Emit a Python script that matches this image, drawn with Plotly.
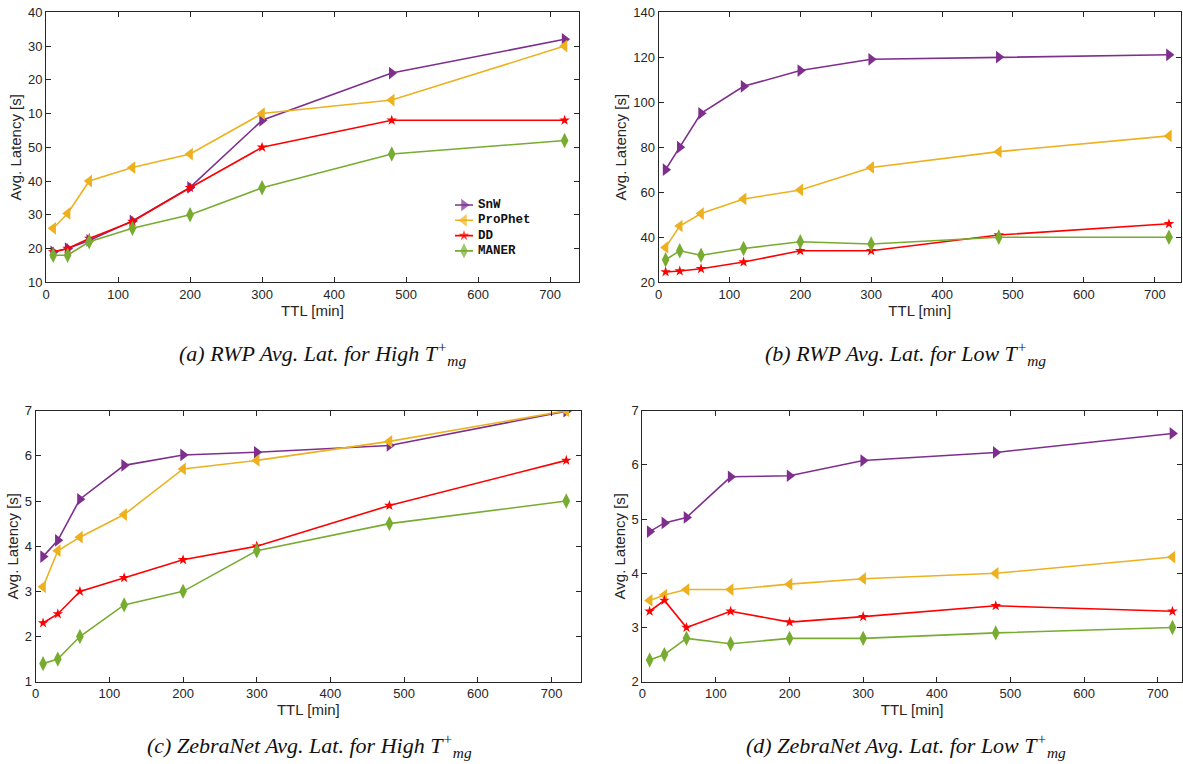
import plotly.graph_objects as go

W, H = 1183, 764

ttl = [10, 30, 60, 120, 200, 300, 480, 720]
series_names = ["SnW", "ProPhet", "DD", "MANER"]

# (a) RWP High  (values on axis scale whose tick labels read 10,20,30,40,50,10,20,30,40)
a_snw = [19, 20, 22.4, 28.2, 38.1, 58, 72, 82]
a_prophet = [26, 30.4, 40, 44, 48, 60, 64, 80]
a_dd = [19, 20, 23, 28, 38, 50, 58, 58]
a_maner = [18, 18, 22, 26, 30, 38, 48, 52]
a_tickvals = [10, 20, 30, 40, 50, 60, 70, 80, 90]
a_ticktext = ["10", "20", "30", "40", "50", "10", "20", "30", "40"]

# (b) RWP Low
b_snw = [70, 80, 95, 107, 114, 119, 120, 121]
b_prophet = [35.5, 45, 50.5, 57, 61, 71, 78, 85]
b_dd = [24.6, 25, 26, 29, 34, 34, 41, 46]
b_maner = [30, 34, 32, 35, 38, 37, 40, 40]

# (c) ZebraNet High
c_snw = [3.77, 4.13, 5.04, 5.79, 6.02, 6.08, 6.23, 6.99]
c_prophet = [3.1, 3.9, 4.2, 4.7, 5.71, 5.9, 6.32, 7.0]
c_dd = [2.3, 2.5, 3.0, 3.3, 3.7, 4.0, 4.9, 5.9]
c_maner = [1.4, 1.5, 2.0, 2.7, 3.0, 3.9, 4.5, 5.0]

# (d) ZebraNet Low
d_snw = [4.77, 4.93, 5.03, 5.78, 5.8, 6.08, 6.23, 6.58]
d_prophet = [3.5, 3.6, 3.7, 3.7, 3.8, 3.9, 4.0, 4.3]
d_dd = [3.3, 3.5, 3.0, 3.3, 3.1, 3.2, 3.4, 3.3]
d_maner = [2.4, 2.5, 2.8, 2.7, 2.8, 2.8, 2.9, 3.0]

captions = [
    "<i>(a) RWP Avg. Lat. for High T<sup>+</sup><sub>mg</sub></i>",
    "<i>(b) RWP Avg. Lat. for Low T<sup>+</sup><sub>mg</sub></i>",
    "<i>(c) ZebraNet Avg. Lat. for High T<sup>+</sup><sub>mg</sub></i>",
    "<i>(d) ZebraNet Avg. Lat. for Low T<sup>+</sup><sub>mg</sub></i>",
]

colors = ["#7E2F8E", "#EDB120", "#FF0000", "#77AC30"]
symbols = ["triangle-right", "triangle-left", "star", "diamond-tall"]
msizes = [11, 11, 8, 11]

# geometry in page pixels
panels = [
    dict(data=[a_snw, a_prophet, a_dd, a_maner], x=(46, 579), y=(12.3, 282.3),
         yr=[10, 90], xr=[0, 740], ytv=a_tickvals, ytt=a_ticktext, cap=(322, 353)),
    dict(data=[b_snw, b_prophet, b_dd, b_maner], x=(658.5, 1181), y=(12.0, 282.3),
         yr=[20, 140], xr=[0, 737], ytv=[20, 40, 60, 80, 100, 120, 140], ytt=None, cap=(905, 353)),
    dict(data=[c_snw, c_prophet, c_dd, c_maner], x=(35.7, 581), y=(410.7, 681.7),
         yr=[1, 7], xr=[0, 740], ytv=[1, 2, 3, 4, 5, 6, 7], ytt=None, cap=(310, 745)),
    dict(data=[d_snw, d_prophet, d_dd, d_maner], x=(642.3, 1182), y=(410.7, 681.7),
         yr=[2, 7], xr=[0, 733], ytv=[2, 3, 4, 5, 6, 7], ytt=None, cap=(906, 745)),
]


def px(xp):
    return xp / W


def py(yp):
    return 1 - yp / H


fig = go.Figure()
axis_color = "#262626"
tick_font = dict(family="Liberation Sans, Arial, sans-serif", size=13, color=axis_color)
title_font = dict(family="Liberation Sans, Arial, sans-serif", size=15, color=axis_color)

for i, p in enumerate(panels):
    sfx = "" if i == 0 else str(i + 1)
    for j, name in enumerate(series_names):
        fig.add_trace(go.Scatter(
            x=ttl, y=p["data"][j], mode="lines+markers",
            name=name,
            line=dict(color=colors[j], width=1.6),
            marker=dict(symbol=symbols[j], size=msizes[j], color=colors[j],
                        line=dict(width=0)),
            xaxis="x" + sfx, yaxis="y" + sfx,
            showlegend=False,
        ))
    x0, x1 = p["x"]
    ytop, ybot = p["y"]
    xa = dict(domain=[px(x0), min(px(x1), 1)], range=p["xr"], tickvals=[0, 100, 200, 300, 400, 500, 600, 700],
              showgrid=False, zeroline=False, showline=True, linecolor=axis_color, linewidth=1,
              mirror="ticks", ticks="inside", ticklen=5, tickcolor=axis_color, tickwidth=1,
              tickfont=tick_font, anchor="y" + sfx, automargin=False, ticklabeloverflow="allow",
              title=dict(text="TTL [min]", font=title_font, standoff=1))
    ya = dict(domain=[py(ybot), py(ytop)], range=p["yr"], tickvals=p["ytv"],
              showgrid=False, zeroline=False, showline=True, linecolor=axis_color, linewidth=1,
              mirror="ticks", ticks="inside", ticklen=5, tickcolor=axis_color, tickwidth=1,
              tickfont=tick_font, anchor="x" + sfx, automargin=False, ticklabeloverflow="allow",
              title=dict(text="Avg. Latency [s]", font=title_font, standoff=2))
    if p["ytt"] is not None:
        ya["ticktext"] = p["ytt"]
    fig.update_layout({"xaxis" + sfx: xa, "yaxis" + sfx: ya})
    cx, cy = p["cap"]
    fig.add_annotation(text=captions[i], x=px(cx), y=py(cy), xref="paper", yref="paper",
                       showarrow=False, xanchor="center", yanchor="middle",
                       font=dict(family="Liberation Serif, Times New Roman, serif", size=22, color="#111111"))

# legend (drawn on a hidden helper axis placed inside panel (a))
leg_x0, leg_x1 = 455, 473
leg_top, leg_step = 205, 15.3
n = len(series_names)
fig.update_layout(
    xaxis5=dict(domain=[px(leg_x0), px(leg_x1)], range=[0, 1], visible=False, fixedrange=True, anchor="y5"),
    yaxis5=dict(domain=[py(leg_top + leg_step * (n - 0.5)), py(leg_top - leg_step * 0.5)],
                range=[n - 0.5, -0.5], visible=False, fixedrange=True, anchor="x5"),
)
for j, name in enumerate(series_names):
    fig.add_trace(go.Scatter(
        x=[0, 0.5, 1], y=[j, j, j], mode="lines+markers",
        line=dict(color=colors[j], width=1.6),
        marker=dict(symbol=symbols[j], size=[0, msizes[j], 0], color=colors[j], line=dict(width=0)),
        xaxis="x5", yaxis="y5", showlegend=False, hoverinfo="skip",
    ))
    fig.add_annotation(text="<b>" + name + "</b>", x=px(leg_x1 + 3), y=py(leg_top + leg_step * j),
                       xref="paper", yref="paper", showarrow=False, xanchor="left", yanchor="middle",
                       font=dict(family="Liberation Mono, Courier New, monospace", size=12.5, color="#111111"))

fig.update_layout(
    width=W, height=H, margin=dict(l=0, r=0, t=0, b=0),
    paper_bgcolor="white", plot_bgcolor="white", showlegend=False,
)

fig.write_html("out.html", config={"displayModeBar": False},
               post_script="document.body.style.margin='0';document.body.style.overflow='hidden';")
